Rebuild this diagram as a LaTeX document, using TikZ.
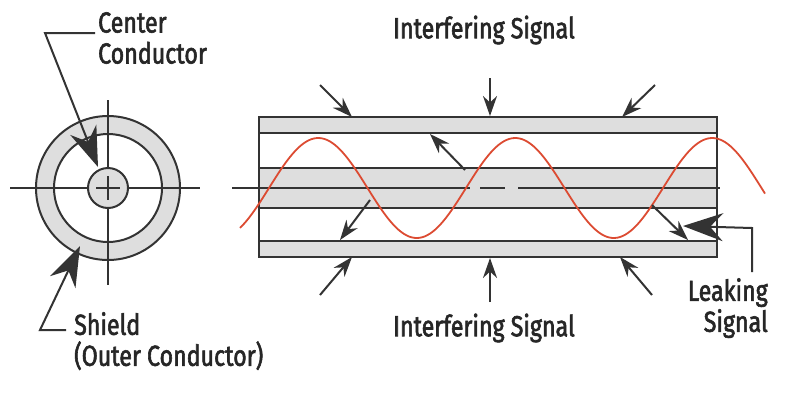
\documentclass[tikz,border=0pt]{standalone}
\usepackage{fontspec}
\setmainfont{Fira Sans}[FakeStretch=0.8,FakeBold=2]
\usetikzlibrary{arrows.meta}
\definecolor{gfill}{RGB}{222,222,222}
\definecolor{wave}{RGB}{220,75,50}
\begin{document}
\begin{tikzpicture}[x=1pt,y=-1pt,
  lab/.style={font=\fontsize{29}{31}\selectfont,text=black!85,inner sep=0},
  ln/.style={line width=2pt,black!80},
  sm/.style={ln,-{Stealth[length=20pt,width=14pt]}},
  big/.style={ln,-{Stealth[length=40pt,width=28pt]}}]
\useasboundingbox (0,0) rectangle (800,400);
% left cross-section
\coordinate (c) at (108,188);
\fill[gfill,even odd rule] (c) circle (72) (c) circle (54);
\fill[gfill] (c) circle (20);
\draw[ln] (c) circle (72) (c) circle (54) (c) circle (20);
\draw[ln] (10,188) -- (88,188) (96,188)--(120,188) (128,188) -- (200,188);
\draw[ln] (108,100) -- (108,168) (108,176) -- (108,200) (108,208) -- (108,285);
\node[lab,anchor=north west,align=left] (cc) at (98,12) {Center\\Conductor};
\coordinate (c1) at (95,33);\coordinate (c2) at (45,33);\coordinate (c3) at (98,167);
\draw[big] (c1) -- (c2) -- (c3);
\node[lab,anchor=north west,align=left] (sh) at (74,312) {Shield\\(Outer Conductor)};
\coordinate (s1) at (66,330);\coordinate (s2) at (40,330);\coordinate (s3) at (80,246);
\draw[big] (s1) -- (s2) -- (s3);
% cable
\fill[gfill] (259,117) rectangle (717,133) (259,241) rectangle (717,257) (259,168) rectangle (717,208);
\draw[ln] (259,117) rectangle (717,257);
\draw[ln] (259,133) -- (717,133) (259,241) -- (717,241) (259,168) -- (717,168) (259,208) -- (717,208);
\draw[ln] (232,188) -- (470,188) (480,188) -- (505,188) (518,188) -- (720,188);
\draw[wave,line width=1.8pt,domain=240:765,samples=200,smooth] plot (\x,{188-50*sin(1.8274*(\x-269))});
% interfering arrows
\node[lab] (it) at (484,30) {Interfering Signal};
\node[lab] (ib) at (484,328) {Interfering Signal};
\foreach \a/\b/\c/\d in {320/85/352/117, 490/78/490/116, 655/85/622/117,
  320/295/352/257, 490/302/490/258, 652/295/620/257}
  \draw[sm] (\a,\b) -- (\c,\d);
\draw[sm] (465,170) -- (430,134);
\draw[sm] (370,200) -- (340,240);
\draw[sm] (652,205) -- (688,240);
% leaking
\node[lab,anchor=north east,align=right] (lk) at (768,278) {Leaking\\Signal};
\coordinate (l1) at (752,272);\coordinate (l2) at (752,228);\coordinate (l3) at (683,226);
\draw[big] (l1) -- (l2) -- (l3);
\end{tikzpicture}
\end{document}
